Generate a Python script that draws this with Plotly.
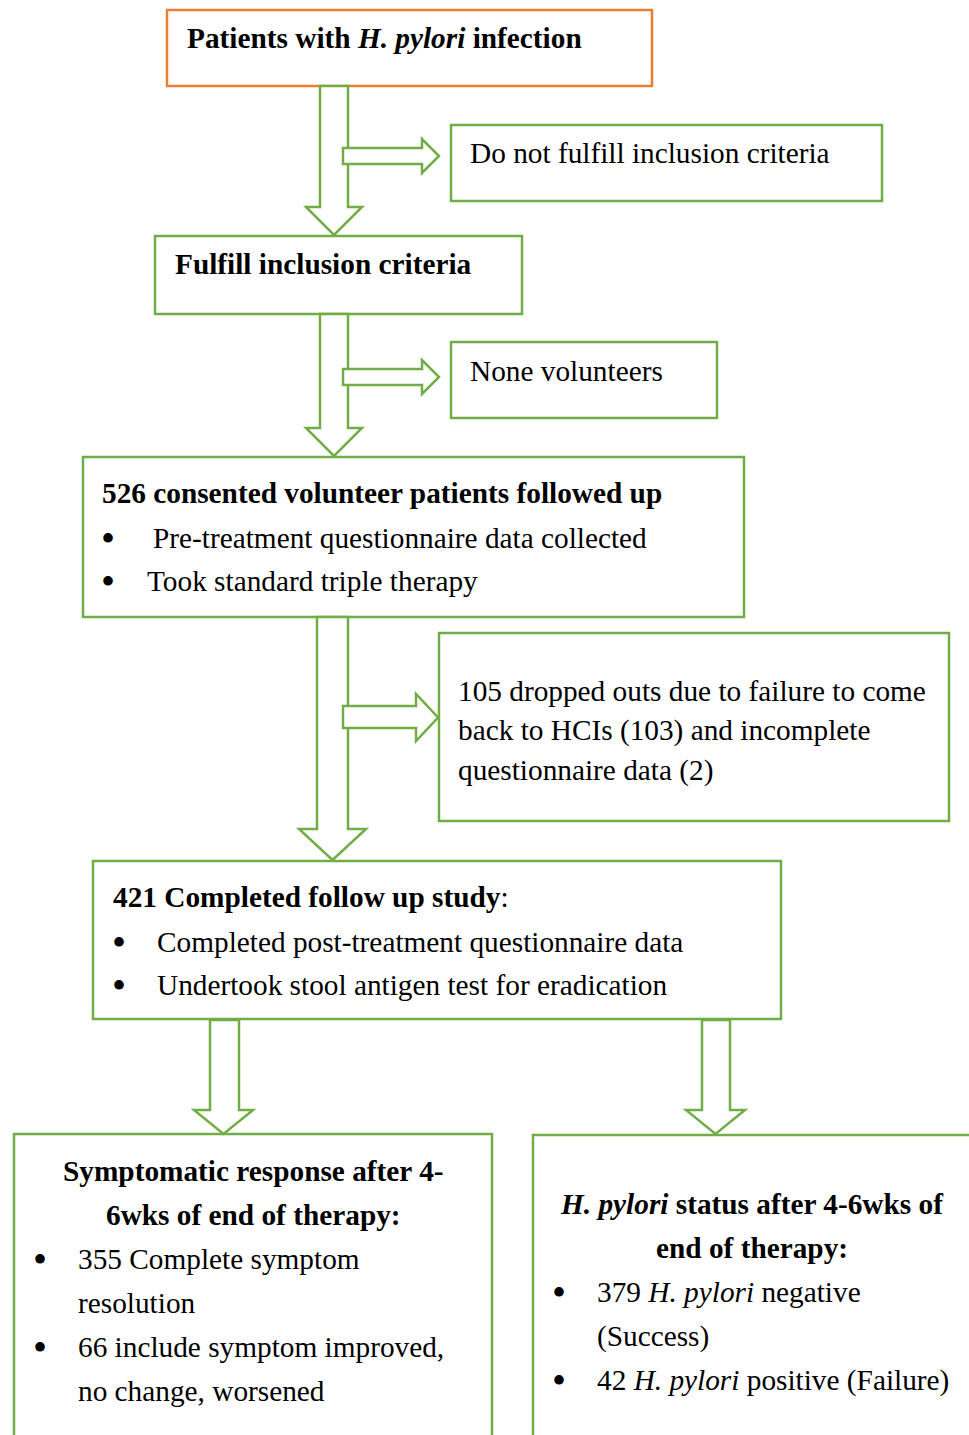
import plotly.graph_objects as go

# ---------------- data (text content / counts) ----------------
consented = 526
dropped = 105
no_return = 103
incomplete = 2
completed = 421
symptom_resolved = 355
symptom_other = 66
hp_negative = 379
hp_positive = 42

box_titles = [
    "<b>Patients with <i>H. pylori</i> infection</b>",
    "Do not fulfill inclusion criteria",
    "<b>Fulfill inclusion criteria</b>",
    "None volunteers",
]
followup_lines = [
    f"<b>{consented} consented volunteer patients followed up</b>",
    "Pre-treatment questionnaire data collected",
    "Took standard triple therapy",
]
dropout_lines = [
    f"{dropped} dropped outs due to failure to come",
    f"back to HCIs ({no_return}) and incomplete",
    f"questionnaire data ({incomplete})",
]
completed_lines = [
    f"<b>{completed} Completed follow up study</b>:",
    "Completed post-treatment questionnaire data",
    "Undertook stool antigen test for eradication",
]
symptom_title = ["<b>Symptomatic response after 4-</b>", "<b>6wks of end of therapy:</b>"]
symptom_lines = [
    f"{symptom_resolved} Complete symptom",
    "resolution",
    f"{symptom_other} include symptom improved,",
    "no change, worsened",
]
status_title = ["<b><i>H. pylori</i> status after 4-6wks of</b>", "<b>end of therapy:</b>"]
status_lines = [
    f"{hp_negative} <i>H. pylori</i> negative",
    "(Success)",
    f"{hp_positive} <i>H. pylori</i> positive (Failure)",
]

# ---------------- styles / layout geometry ----------------
W, H = 969, 1435
GREEN = "#70AD47"
ORANGE = "#ED7D31"
FONT = "Liberation Serif, Times New Roman, serif"
FS = 29.3
LW = 2.5
PAD = 2  # annotation inner padding compensation

fig = go.Figure()
shapes = []
annos = []


def box(x0, y0, x1, y1, color=GREEN):
    shapes.append(dict(type="rect", x0=x0, y0=y0, x1=x1, y1=y1,
                       line=dict(color=color, width=LW), fillcolor="white", layer="below"))


def down_arrow(xl, xr, y0, yh, hl, hr, yt):
    cx = (hl + hr) / 2
    p = (f"M{xl},{y0} L{xr},{y0} L{xr},{yh} L{hr},{yh} L{cx},{yt} "
         f"L{hl},{yh} L{xl},{yh} Z")
    shapes.append(dict(type="path", path=p, line=dict(color=GREEN, width=LW),
                       fillcolor="white", layer="above"))


def right_arrow(x0, sy0, sy1, hx, hy0, hy1, xt):
    ty = (hy0 + hy1) / 2
    p = (f"M{x0},{sy0} L{hx},{sy0} L{hx},{hy0} L{xt},{ty} L{hx},{hy1} "
         f"L{hx},{sy1} L{x0},{sy1} Z")
    shapes.append(dict(type="path", path=p, line=dict(color=GREEN, width=LW),
                       fillcolor="white", layer="above"))


def text(x, y, s, anchor="left", size=FS):
    if anchor == "left":
        x = x - PAD
    annos.append(dict(x=x, y=y, text=s, showarrow=False, xanchor=anchor,
                      yanchor="middle", font=dict(family=FONT, size=size, color="black"),
                      xref="x", yref="y"))


def bullet(x, y):
    text(x, y, "•", anchor="center", size=40)


# boxes
box(167, 10, 652, 86, ORANGE)
box(451, 125, 882, 201)
box(155, 236, 522, 314)
box(451, 342, 717, 418)
box(83, 457, 744, 617)
box(439, 633, 949, 821)
box(93, 861, 781, 1019)
box(14, 1134, 492, 1445)
box(533, 1135, 975, 1445)

# arrows
down_arrow(320, 348, 86, 207, 306, 362, 235)
right_arrow(343, 148, 164, 422, 139, 173, 439)
down_arrow(320, 348, 314, 428, 306, 362, 456)
right_arrow(343, 369, 385, 422, 360, 394, 439)
down_arrow(317, 348, 617, 829, 299, 366, 860)
right_arrow(343, 706, 728, 416, 694, 741, 438)
down_arrow(210, 239, 1020, 1110, 194, 253, 1134)
down_arrow(702, 730, 1020, 1110, 686, 745, 1134)

# texts
text(187, 38, box_titles[0])
text(470, 153, box_titles[1])
text(175, 264, box_titles[2])
text(470, 371, box_titles[3])

text(102, 493, followup_lines[0])
bullet(108, 538); text(153, 538, followup_lines[1])
bullet(108, 581); text(147, 581, followup_lines[2])

for yy, s in zip([691, 730, 770], dropout_lines):
    text(458, yy, s)

text(113, 897, completed_lines[0])
bullet(119, 942); text(157, 942, completed_lines[1])
bullet(119, 985); text(157, 985, completed_lines[2])

text(253, 1171, symptom_title[0], anchor="center")
text(253, 1215, symptom_title[1], anchor="center")
bullet(40, 1259); text(78, 1259, symptom_lines[0])
text(78, 1303, symptom_lines[1])
bullet(40, 1347); text(78, 1347, symptom_lines[2])
text(78, 1391, symptom_lines[3])

text(752, 1204, status_title[0], anchor="center")
text(752, 1248, status_title[1], anchor="center")
bullet(559, 1292); text(597, 1292, status_lines[0])
text(597, 1336, status_lines[1])
bullet(559, 1380); text(597, 1380, status_lines[2])

fig.update_layout(
    width=W, height=H,
    margin=dict(l=0, r=0, t=0, b=0),
    paper_bgcolor="white", plot_bgcolor="white",
    xaxis=dict(range=[0, W], visible=False, fixedrange=True),
    yaxis=dict(range=[H, 0], visible=False, fixedrange=True),
    shapes=shapes, annotations=annos, showlegend=False,
)

fig.write_html("out.html", config={"displayModeBar": False},
               post_script="document.body.style.margin='0';document.body.style.overflow='hidden';")
